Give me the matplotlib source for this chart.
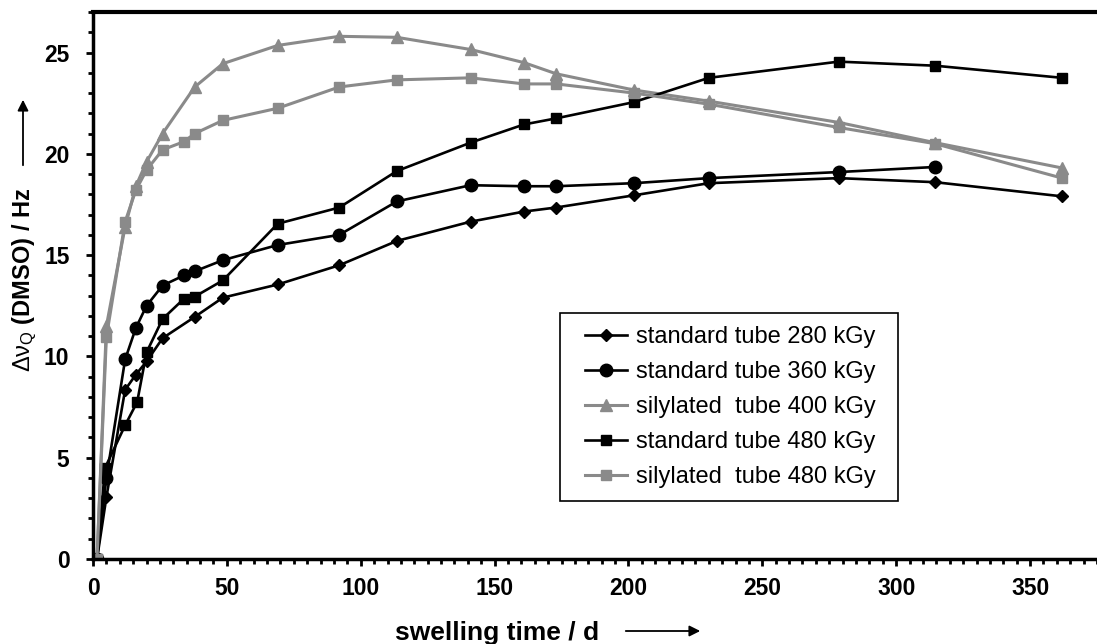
#!/usr/bin/env python3

import matplotlib

matplotlib.use("Agg")

import matplotlib.pyplot as plt
from matplotlib.patches import Rectangle
from matplotlib.ticker import MultipleLocator

plt.rcParams["font.family"] = ["Liberation Sans", "DejaVu Sans"]
plt.rcParams["mathtext.fontset"] = "custom"
plt.rcParams["mathtext.rm"] = "Liberation Sans"
plt.rcParams["mathtext.it"] = "Liberation Sans:italic"
plt.rcParams["mathtext.bf"] = "Liberation Sans:bold"

DAYS = [1.5, 5, 12, 16, 20, 26, 34, 38, 48.5, 69, 92, 113.5, 141, 161, 173, 202, 230, 278.5, 314.5, 362]
DAYS_NO34 = [1.5, 5, 12, 16, 20, 26, 38, 48.5, 69, 92, 113.5, 141, 161, 173, 202, 230, 278.5, 314.5, 362]
DAYS_STD360 = DAYS[:-1]
DAYS_STD480 = [1.5, 4.5, 12, 16.5, 20, 26, 34, 38, 48.5, 69, 92, 113.5, 141, 161, 173, 202, 230, 278.5, 314.5, 362]

STD_280 = [0, 3.05, 8.35, 9.1, 9.75, 10.9, 11.95, 12.9, 13.55, 14.5, 15.7, 16.65, 17.15, 17.35, 17.95,
           18.55, 18.8, 18.6, 17.9]
STD_360 = [0, 4.0, 9.85, 11.4, 12.5, 13.5, 14.0, 14.2, 14.75, 15.5, 16.0, 17.65, 18.45, 18.4, 18.4,
           18.55, 18.8, 19.1, 19.35]
SIL_400 = [0, 11.5, 16.4, 18.4, 19.6, 21.0, 23.3, 24.45, 25.35, 25.8, 25.75, 25.15, 24.5, 23.95,
           23.15, 22.6, 21.55, 20.55, 19.3]
STD_480 = [0, 4.5, 6.6, 7.75, 10.2, 11.85, 12.85, 12.95, 13.75, 16.55, 17.35, 19.15, 20.55, 21.45,
           21.75, 22.55, 23.75, 24.55, 24.35, 23.75]
SIL_480 = [0, 10.95, 16.65, 18.2, 19.2, 20.2, 20.6, 21.0, 21.65, 22.25, 23.3, 23.65, 23.75, 23.45,
           23.45, 23.0, 22.45, 21.3, 20.5, 18.8]

LABELS = [
    "standard tube 280 kGy",
    "standard tube 360 kGy",
    "silylated  tube 400 kGy",
    "standard tube 480 kGy",
    "silylated  tube 480 kGy",
]

BLACK = "black"
GREY = "#8a8a8a"

W, H = 1097, 644
AX_L, AX_T, AX_B = 93, 12, 559
fig = plt.figure(figsize=(W / 100, H / 100), dpi=100)
ax = fig.add_axes([AX_L / W, 1 - AX_B / H, 1 - AX_L / W, (AX_B - AX_T) / H])


def ax_frac(px, py):
    # reference pixel -> axes fraction
    return (px - AX_L) / (W - AX_L), (AX_B - py) / (AX_B - AX_T)


ax.plot(DAYS_NO34, STD_280, color=BLACK, lw=1.9, marker="D", ms=6, label=LABELS[0])
ax.plot(DAYS_STD360, STD_360, color=BLACK, lw=1.9, marker="o", ms=9, label=LABELS[1])
ax.plot(DAYS_NO34, SIL_400, color=GREY, lw=2.2, marker="^", ms=8.5, label=LABELS[2])
ax.plot(DAYS_STD480, STD_480, color=BLACK, lw=1.9, marker="s", ms=7.5, label=LABELS[3])
ax.plot(DAYS, SIL_480, color=GREY, lw=2.2, marker="s", ms=7.5, label=LABELS[4])

ax.set_xlim(0, 375)
ax.set_ylim(0, 27)
ax.xaxis.set_major_locator(MultipleLocator(50))
ax.xaxis.set_minor_locator(MultipleLocator(5))
ax.yaxis.set_major_locator(MultipleLocator(5))
ax.yaxis.set_minor_locator(MultipleLocator(1))
ax.tick_params(which="major", direction="out", length=5, width=2, labelsize=16.5)
ax.tick_params(which="minor", direction="out", length=3.5, width=2)
ax.tick_params(axis="x", pad=8)
ax.tick_params(axis="y", pad=12)
for lbl in ax.get_xticklabels() + ax.get_yticklabels():
    lbl.set_fontweight("bold")

ax.spines["right"].set_visible(False)
ax.spines["top"].set_linewidth(3)
ax.spines["left"].set_linewidth(2.5)
ax.spines["bottom"].set_linewidth(2.5)

# legend without its own frame, framed by a rectangle matching the reference box
x0, y0 = ax_frac(560, 501)
x1, y1 = ax_frac(898, 313)
ax.add_patch(Rectangle((x0, y0), x1 - x0, y1 - y0, transform=ax.transAxes, fill=True,
                       facecolor="white", edgecolor="black", lw=1.2, zorder=4))
cx, cy = ax_frac(730, 407)
leg = ax.legend(
    loc="center",
    bbox_to_anchor=(cx, cy),
    fontsize=17,
    frameon=False,
    handlelength=1.8,
    handletextpad=0.35,
    labelspacing=0.55,
    borderpad=0.2,
    borderaxespad=0,
)
leg.set_zorder(5)

fig.text(497 / W, 1 - 633 / H, "swelling time / d", ha="center", va="center",
         fontsize=19, fontweight="bold")
fig.text(25 / W, 1 - 280 / H, r"$\mathrm{\Delta\nu_{Q}}$ (DMSO) / Hz", rotation=90,
         ha="center", va="center", fontsize=17, fontweight="bold")

arrow = dict(arrowstyle="-|>", color="black", lw=1.3, mutation_scale=16)
fig.add_artist(plt.Annotation("", xy=(703 / W, 1 - 631 / H), xytext=(623 / W, 1 - 631 / H),
                              xycoords="figure fraction", arrowprops=arrow))
fig.add_artist(plt.Annotation("", xy=(23 / W, 1 - 97 / H), xytext=(23 / W, 1 - 168 / H),
                              xycoords="figure fraction", arrowprops=arrow))

fig.savefig("out.png", dpi=100)
